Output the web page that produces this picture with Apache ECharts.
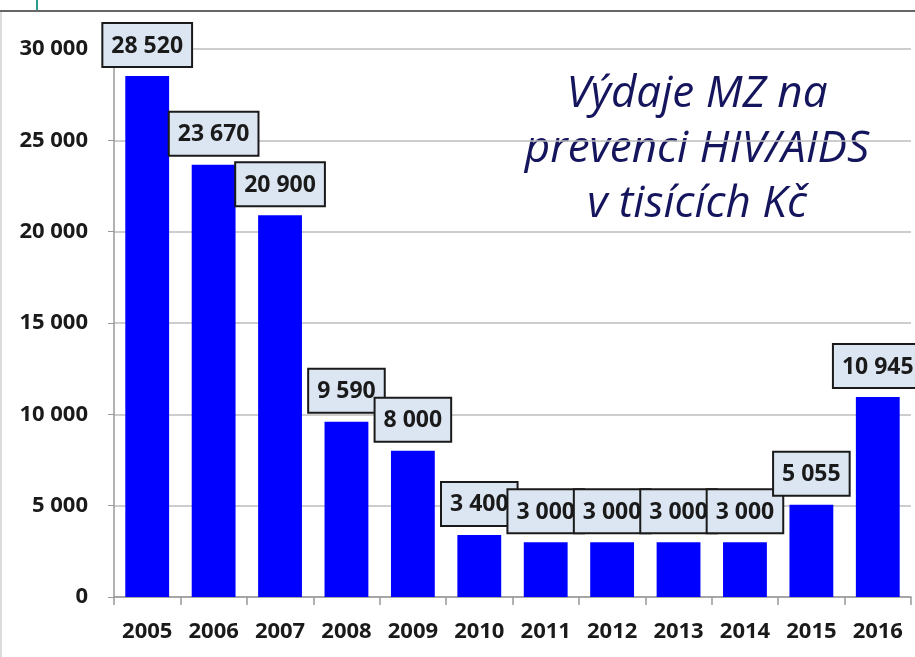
<!DOCTYPE html>
<html>
<head>
<meta charset="utf-8">
<script src="https://cdn.jsdelivr.net/npm/echarts@6/dist/echarts.min.js"></script>
<style>
  html, body { margin: 0; padding: 0; background: #fff; }
  #chart { width: 915px; height: 657px; }
</style>
</head>
<body>
<div id="chart"></div>
<script>
// Výdaje MZ na prevenci HIV/AIDS (tis. Kč)
const years = ['2005', '2006', '2007', '2008', '2009', '2010', '2011', '2012', '2013', '2014', '2015', '2016'];
const spending = [28520, 23670, 20900, 9590, 8000, 3400, 3000, 3000, 3000, 3000, 5055, 10945];
const titleLines = ['Výdaje MZ na', 'prevenci HIV/AIDS', 'v tisících Kč'];

const fmt = v => String(v).replace(/\B(?=(\d{3})+(?!\d))/g, ' ');
const font = '"Open Sans", "Liberation Sans", sans-serif';

const chart = echarts.init(document.getElementById('chart'));

const option = {
  backgroundColor: '#fff',
  animation: false,
  grid: { top: 49, right: 4, bottom: 60, left: 114 },
  xAxis: {
    type: 'category',
    data: years,
    axisLine: { lineStyle: { color: '#999', width: 1.5 } },
    axisTick: { show: true, length: 8, lineStyle: { color: '#999', width: 1.5 } },
    axisLabel: { color: '#1a1a1a', fontSize: 22, fontWeight: 'bold', fontFamily: font, margin: 24 }
  },
  yAxis: {
    type: 'value',
    min: 0,
    max: 30000,
    interval: 5000,
    axisLine: { show: true, lineStyle: { color: '#999', width: 1.5 } },
    axisTick: { show: true, length: 6, lineStyle: { color: '#999' } },
    axisLabel: { color: '#1a1a1a', fontSize: 22, fontWeight: 'bold', fontFamily: font, margin: 26, formatter: v => fmt(v) },
    splitLine: { lineStyle: { color: '#bdbdbd', width: 1.5 } }
  },
  series: [
    {
      type: 'bar',
      data: spending,
      barWidth: '66%',
      itemStyle: { color: '#0000ff' },
      label: {
        show: true,
        position: 'top',
        distance: 10,
        formatter: p => fmt(p.value),
        color: '#1a1a1a',
        fontSize: 23,
        lineHeight: 26,
        fontWeight: 'bold',
        fontFamily: font,
        backgroundColor: '#dce6f2',
        borderColor: '#1a1a1a',
        borderWidth: 2,
        padding: [9, 8, 7, 8]
      }
    }
  ],
  graphic: [
    { type: 'line', shape: { x1: 0, y1: 11, x2: 915, y2: 11 }, style: { stroke: '#666', lineWidth: 2 } },
    { type: 'line', shape: { x1: 37, y1: 0, x2: 37, y2: 10 }, style: { stroke: '#2a9d8f', lineWidth: 2 } },
    { type: 'line', shape: { x1: 1, y1: 12, x2: 1, y2: 657 }, style: { stroke: '#d0d0d0', lineWidth: 1.5 } },
    {
      type: 'text',
      x: 697,
      y: 67,
      style: {
        text: titleLines.join('\n'),
        font: 'italic 44px ' + font,
        fill: '#15155e',
        align: 'center',
        verticalAlign: 'top',
        lineHeight: 55
      }
    }
  ]
};

chart.setOption(option);
window.addEventListener('resize', () => chart.resize());
</script>
</body>
</html>
